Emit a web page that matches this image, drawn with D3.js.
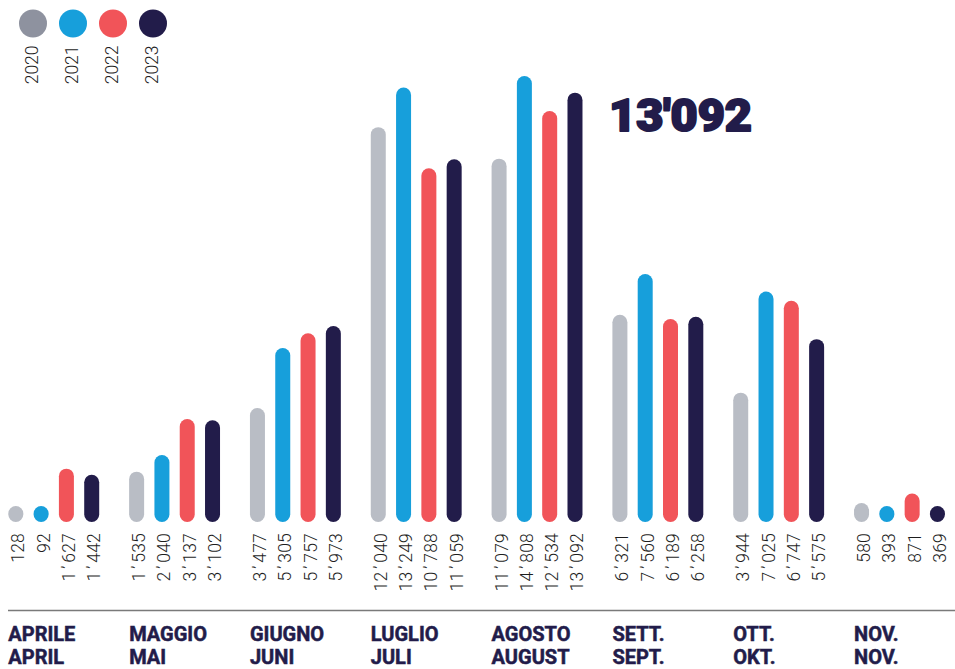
<!DOCTYPE html>
<html>
<head>
<meta charset="utf-8">
<script src="https://cdn.jsdelivr.net/npm/d3@7"></script>
<style>
  html, body { margin: 0; padding: 0; background: #fff; }
  svg { display: block; }
</style>
</head>
<body>
<svg id="chart" width="955" height="669"></svg>
<script>
// ---- data ----
const monthsIT = ["APRILE", "MAGGIO", "GIUGNO", "LUGLIO", "AGOSTO", "SETT.", "OTT.", "NOV."];
const monthsDE = ["APRIL", "MAI", "JUNI", "JULI", "AUGUST", "SEPT.", "OKT.", "NOV."];
const years = ["2020", "2021", "2022", "2023"];
const values2020 = [128, 1535, 3477, 12040, 11079, 6321, 3944, 580];
const values2021 = [92, 2040, 5305, 13249, 14808, 7560, 7025, 393];
const values2022 = [1627, 3137, 5757, 10788, 12534, 6189, 6747, 871];
const values2023 = [1442, 3102, 5973, 11059, 13092, 6258, 5575, 369];
const highlightLabel = "13'092";
const barColors = ["#b9bdc5", "#179fdb", "#f15459", "#221c4a"];
const legendColors = ["#8e929f", "#179fdb", "#f15459", "#221c4a"];

const series = [values2020, values2021, values2022, values2023];

const svg = d3.select("#chart");
const baseY = 522;
const barW = 15;
const minH = 16;

const x0 = d3.scaleBand().domain(monthsIT).range([53.75 - 60.4, 899.5 + 60.4]).padding(0);
const x1 = d3.scaleBand().domain(years)
  .range([x0.bandwidth() / 2 - 50.6, x0.bandwidth() / 2 + 50.6]).padding(0);
const y = d3.scaleLinear().domain([0, 13600]).range([baseY, 76]).clamp(true);

const fmt = v => d3.format(",")(v).replace(/,/g, "\u2019");

const cx = (mi, yi) => x0(monthsIT[mi]) + x1(years[yi]) + x1.bandwidth() / 2;

const rows = [];
monthsIT.forEach((m, mi) => {
  years.forEach((yr, yi) => {
    rows.push({ mi, yi, v: series[yi][mi] });
  });
});

// bars
svg.append("g").selectAll("rect").data(rows).join("rect")
  .attr("x", d => cx(d.mi, d.yi) - barW / 2)
  .attr("width", barW)
  .attr("y", d => Math.min(y(d.v), baseY - minH))
  .attr("height", d => Math.max(baseY - y(d.v), minH))
  .attr("rx", barW / 2)
  .attr("ry", barW / 2)
  .attr("fill", d => barColors[d.yi]);

// value labels (apostrophe given extra room as in the reference)
const vl = svg.append("g").selectAll("text").data(rows).join("text")
  .attr("transform", d => `translate(${cx(d.mi, d.yi) + 8.5},533) rotate(-90)`)
  .attr("text-anchor", "end")
  .attr("font-family", "Roboto, 'Noto Sans', sans-serif")
  .attr("font-weight", 300)
  .attr("font-size", 17.5)
  .attr("letter-spacing", 0.2)
  .attr("fill", "#1e1e1e");
vl.each(function(d) {
  const parts = fmt(d.v).split("\u2019");
  const t = d3.select(this);
  parts.forEach((p, i) => {
    if (i > 0) {
      t.append("tspan").attr("dx", 2.8).text("\u2019");
      t.append("tspan").attr("dx", 2.8).text(p);
    } else {
      t.append("tspan").text(p);
    }
  });
});

// separator
svg.append("line")
  .attr("x1", 8).attr("x2", 955)
  .attr("y1", 610.5).attr("y2", 610.5)
  .attr("stroke", "#7a7a7a").attr("stroke-width", 1.5);

// month labels
const mg = svg.append("g")
  .attr("font-family", "Roboto, 'Noto Sans', sans-serif")
  .attr("font-weight", 700)
  .attr("font-size", 20)
  .attr("fill", "#221c4a")
  .attr("stroke", "#221c4a")
  .attr("stroke-width", 0.5);
monthsIT.forEach((m, mi) => {
  const lx = cx(mi, 0) - barW / 2;
  mg.append("text").attr("x", lx).attr("y", 640.5).text(m);
  mg.append("text").attr("x", lx).attr("y", 663.5).text(monthsDE[mi]);
});

// legend
const lg = svg.append("g");
years.forEach((yr, i) => {
  const lx = 33 + i * 40;
  lg.append("circle").attr("cx", lx).attr("cy", 23.5).attr("r", 14).attr("fill", legendColors[i]);
  lg.append("text")
    .attr("transform", `translate(${lx + 5},45.5) rotate(-90)`)
    .attr("text-anchor", "end")
    .attr("font-family", "Roboto, 'Noto Sans', sans-serif")
    .attr("font-weight", 300)
    .attr("font-size", 17.5)
    .attr("fill", "#1e1e1e")
    .text(yr);
});

// highlight
svg.append("text")
  .attr("x", 609).attr("y", 131)
  .attr("font-family", "Roboto, Lato, sans-serif")
  .attr("font-weight", 900)
  .attr("font-size", 44)
  .attr("textLength", 143)
  .attr("lengthAdjust", "spacingAndGlyphs")
  .attr("fill", "#221c4a")
  .attr("stroke", "#221c4a")
  .attr("stroke-width", 2)
  .attr("stroke-linejoin", "round")
  .text(highlightLabel);
</script>
</body>
</html>
